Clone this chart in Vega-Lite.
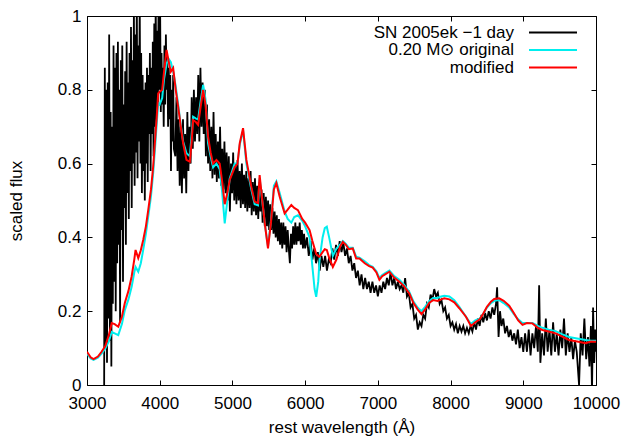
{
  "$schema": "https://vega.github.io/schema/vega-lite/v6.json",
  "width": 509,
  "height": 369,
  "autosize": {"type": "none"},
  "padding": {"left": 87, "top": 16, "right": 30, "bottom": 53},
  "background": "white",
  "config": {
    "font": "Liberation Sans",
    "view": {"stroke": "black", "strokeWidth": 1}
  },
  "datasets": {
    "obs": [
      {"w":3235,"f":-0.1},{"w":3245,"f":0.86},{"w":3255,"f":0.10},{"w":3265,"f":0.80},{"w":3275,"f":0.06},{"w":3285,"f":0.82},{"w":3295,"f":0.18},{"w":3305,"f":0.95},{"w":3315,"f":0.12},{"w":3325,"f":0.74},{"w":3335,"f":0.05},{"w":3345,"f":0.70},{"w":3355,"f":0.22},{"w":3365,"f":0.92},{"w":3375,"f":0.28},{"w":3385,"f":0.86},{"w":3395,"f":0.20},{"w":3405,"f":0.90},{"w":3415,"f":0.33},{"w":3425,"f":0.93},{"w":3435,"f":0.38},{"w":3445,"f":0.80},{"w":3455,"f":0.17},{"w":3465,"f":0.88},{"w":3475,"f":0.42},{"w":3485,"f":0.92},{"w":3495,"f":0.28},{"w":3505,"f":0.76},{"w":3515,"f":0.48},{"w":3525,"f":0.85},{"w":3535,"f":0.38},{"w":3545,"f":0.93},{"w":3555,"f":0.52},{"w":3565,"f":0.82},{"w":3575,"f":0.45},{"w":3585,"f":0.90},{"w":3595,"f":0.58},{"w":3605,"f":0.97},{"w":3615,"f":0.48},{"w":3625,"f":0.88},{"w":3635,"f":0.60},{"w":3645,"f":1.02},{"w":3655,"f":0.54},{"w":3665,"f":0.95},{"w":3675,"f":0.63},{"w":3685,"f":1.05},{"w":3695,"f":0.56},{"w":3705,"f":0.92},{"w":3715,"f":0.66},{"w":3725,"f":1.04},{"w":3735,"f":0.60},{"w":3745,"f":0.90},{"w":3755,"f":0.52},{"w":3765,"f":0.84},{"w":3775,"f":0.58},{"w":3785,"f":0.80},{"w":3795,"f":0.50},{"w":3805,"f":0.82},{"w":3815,"f":0.60},{"w":3825,"f":0.86},{"w":3835,"f":0.55},{"w":3845,"f":0.84},{"w":3855,"f":0.68},{"w":3865,"f":0.90},{"w":3875,"f":0.58},{"w":3885,"f":0.86},{"w":3895,"f":0.68},{"w":3905,"f":0.93},{"w":3915,"f":0.62},{"w":3925,"f":0.98},{"w":3935,"f":0.70},{"w":3945,"f":1.05},{"w":3955,"f":0.72},{"w":3965,"f":0.96},{"w":3975,"f":0.76},{"w":3985,"f":1.06},{"w":3995,"f":0.80},{"w":4005,"f":1.04},{"w":4015,"f":0.74},{"w":4025,"f":0.90},{"w":4035,"f":0.76},{"w":4045,"f":0.86},{"w":4055,"f":0.70},{"w":4065,"f":0.92},{"w":4075,"f":0.76},{"w":4085,"f":0.95},{"w":4095,"f":0.80},{"w":4105,"f":0.88},{"w":4115,"f":0.70},{"w":4125,"f":0.86},{"w":4135,"f":0.72},{"w":4145,"f":0.84},{"w":4155,"f":0.58},{"w":4165,"f":0.80},{"w":4175,"f":0.66},{"w":4185,"f":0.84},{"w":4195,"f":0.64},
      {"w":4215,"f":0.62},{"w":4230,"f":0.78},{"w":4245,"f":0.58},{"w":4260,"f":0.72},{"w":4275,"f":0.54},{"w":4290,"f":0.70},{"w":4305,"f":0.52},{"w":4320,"f":0.72},{"w":4335,"f":0.56},{"w":4350,"f":0.68},{"w":4365,"f":0.52},{"w":4380,"f":0.74},{"w":4395,"f":0.58},{"w":4410,"f":0.70},{"w":4425,"f":0.60},{"w":4440,"f":0.78},{"w":4455,"f":0.64},{"w":4470,"f":0.80},{"w":4485,"f":0.66},{"w":4500,"f":0.78},{"w":4515,"f":0.68},{"w":4530,"f":0.84},{"w":4545,"f":0.66},{"w":4560,"f":0.86},{"w":4575,"f":0.70},{"w":4590,"f":0.82},{"w":4605,"f":0.68},{"w":4620,"f":0.80},{"w":4635,"f":0.62},{"w":4650,"f":0.76},{"w":4665,"f":0.60},{"w":4680,"f":0.72},{"w":4695,"f":0.58},{"w":4710,"f":0.70},{"w":4725,"f":0.56},
      {"w":4740,"f":0.74},{"w":4755,"f":0.57},{"w":4770,"f":0.68},{"w":4785,"f":0.55},{"w":4800,"f":0.66},{"w":4815,"f":0.56},{"w":4830,"f":0.70},{"w":4845,"f":0.54},{"w":4860,"f":0.64},{"w":4875,"f":0.53},{"w":4890,"f":0.66},{"w":4905,"f":0.52},{"w":4920,"f":0.63},{"w":4935,"f":0.50},{"w":4950,"f":0.62},{"w":4965,"f":0.47},{"w":4980,"f":0.60},{"w":4995,"f":0.52},{"w":5010,"f":0.63},{"w":5025,"f":0.50},{"w":5040,"f":0.60},{"w":5055,"f":0.49},{"w":5070,"f":0.61},{"w":5085,"f":0.50},{"w":5100,"f":0.58},{"w":5115,"f":0.48},{"w":5130,"f":0.60},{"w":5145,"f":0.49},{"w":5160,"f":0.57},{"w":5175,"f":0.48},{"w":5190,"f":0.58},{"w":5205,"f":0.47},{"w":5220,"f":0.56},{"w":5235,"f":0.48},{"w":5250,"f":0.58},{"w":5265,"f":0.46},{"w":5280,"f":0.55},{"w":5295,"f":0.47},{"w":5310,"f":0.56},{"w":5325,"f":0.46},{"w":5340,"f":0.54},{"w":5355,"f":0.45},{"w":5370,"f":0.55},{"w":5385,"f":0.47},{"w":5400,"f":0.53},{"w":5415,"f":0.44},{"w":5430,"f":0.52},{"w":5445,"f":0.43},{"w":5460,"f":0.51},{"w":5475,"f":0.43},{"w":5490,"f":0.50},{"w":5505,"f":0.42},{"w":5520,"f":0.49},{"w":5535,"f":0.42},{"w":5550,"f":0.48},{"w":5565,"f":0.41},{"w":5580,"f":0.47},{"w":5595,"f":0.40},{"w":5610,"f":0.46},{"w":5625,"f":0.39},{"w":5640,"f":0.45},{"w":5655,"f":0.38},{"w":5670,"f":0.44},{"w":5685,"f":0.37},{"w":5700,"f":0.44},{"w":5715,"f":0.38},{"w":5730,"f":0.43},{"w":5745,"f":0.36},{"w":5760,"f":0.42},{"w":5775,"f":0.37},{"w":5790,"f":0.33},{"w":5805,"f":0.41},{"w":5820,"f":0.37},{"w":5835,"f":0.43},{"w":5850,"f":0.38},{"w":5865,"f":0.44},{"w":5880,"f":0.38},{"w":5895,"f":0.43},{"w":5910,"f":0.39},{"w":5925,"f":0.44},{"w":5940,"f":0.38},{"w":5955,"f":0.42},{"w":5970,"f":0.37},{"w":5985,"f":0.41},{"w":6000,"f":0.37},
      {"w":6025,"f":0.40},{"w":6050,"f":0.35},{"w":6075,"f":0.39},{"w":6100,"f":0.34},{"w":6125,"f":0.37},{"w":6150,"f":0.33},{"w":6175,"f":0.36},{"w":6200,"f":0.31},{"w":6225,"f":0.35},{"w":6250,"f":0.32},{"w":6275,"f":0.35},{"w":6300,"f":0.31},{"w":6325,"f":0.34},{"w":6350,"f":0.33},{"w":6375,"f":0.37},{"w":6400,"f":0.34},{"w":6425,"f":0.38},{"w":6450,"f":0.35},{"w":6475,"f":0.39},{"w":6500,"f":0.36},{"w":6525,"f":0.385},{"w":6550,"f":0.35},{"w":6575,"f":0.37},{"w":6600,"f":0.33},{"w":6625,"f":0.35},{"w":6650,"f":0.31},{"w":6675,"f":0.33},{"w":6700,"f":0.29},{"w":6725,"f":0.31},{"w":6750,"f":0.27},{"w":6775,"f":0.30},{"w":6800,"f":0.26},{"w":6825,"f":0.29},{"w":6850,"f":0.26},{"w":6875,"f":0.28},{"w":6900,"f":0.25},{"w":6925,"f":0.28},{"w":6950,"f":0.25},{"w":6975,"f":0.27},{"w":7000,"f":0.24},{"w":7025,"f":0.27},{"w":7050,"f":0.25},{"w":7075,"f":0.28},{"w":7100,"f":0.26},{"w":7125,"f":0.29},{"w":7150,"f":0.27},{"w":7175,"f":0.305},{"w":7200,"f":0.27},{"w":7225,"f":0.29},{"w":7250,"f":0.26},{"w":7275,"f":0.28},{"w":7300,"f":0.26},{"w":7325,"f":0.27},{"w":7350,"f":0.25},{"w":7375,"f":0.29},{"w":7400,"f":0.24},{"w":7425,"f":0.25},{"w":7450,"f":0.21},{"w":7475,"f":0.22},{"w":7500,"f":0.18},{"w":7525,"f":0.19},{"w":7550,"f":0.15},{"w":7575,"f":0.17},{"w":7600,"f":0.16},{"w":7625,"f":0.19},{"w":7650,"f":0.18},{"w":7675,"f":0.22},{"w":7700,"f":0.21},{"w":7725,"f":0.245},{"w":7750,"f":0.23},{"w":7775,"f":0.26},{"w":7800,"f":0.24},{"w":7825,"f":0.25},{"w":7850,"f":0.22},{"w":7875,"f":0.23},{"w":7900,"f":0.20},{"w":7925,"f":0.21},{"w":7950,"f":0.18},{"w":7975,"f":0.19},{"w":8000,"f":0.16},{"w":8025,"f":0.17},{"w":8050,"f":0.15},{"w":8075,"f":0.165},{"w":8100,"f":0.14},{"w":8125,"f":0.16},{"w":8150,"f":0.145},{"w":8175,"f":0.16},{"w":8200,"f":0.14},{"w":8225,"f":0.155},{"w":8250,"f":0.14},{"w":8275,"f":0.16},{"w":8300,"f":0.145},{"w":8325,"f":0.17},{"w":8350,"f":0.15},{"w":8375,"f":0.18},{"w":8400,"f":0.16},{"w":8425,"f":0.19},{"w":8450,"f":0.17},{"w":8475,"f":0.195},{"w":8500,"f":0.175},{"w":8525,"f":0.20},{"w":8550,"f":0.18},{"w":8575,"f":0.21},{"w":8600,"f":0.19},{"w":8625,"f":0.22},{"w":8640,"f":0.265},{"w":8660,"f":0.13},{"w":8680,"f":0.20},{"w":8700,"f":0.16},{"w":8725,"f":0.18},{"w":8750,"f":0.14},{"w":8775,"f":0.16},{"w":8800,"f":0.13},{"w":8825,"f":0.15},{"w":8850,"f":0.12},{"w":8875,"f":0.14},{"w":8900,"f":0.11},{"w":8925,"f":0.15},{"w":8950,"f":0.10},{"w":8975,"f":0.13},{"w":9000,"f":0.09},{"w":9025,"f":0.14},{"w":9050,"f":0.09},{"w":9075,"f":0.15},{"w":9100,"f":0.08},{"w":9125,"f":0.14},{"w":9150,"f":0.10},{"w":9175,"f":0.16},{"w":9200,"f":0.09},{"w":9218,"f":0.27},{"w":9235,"f":0.06},{"w":9260,"f":0.14},{"w":9285,"f":0.08},{"w":9310,"f":0.18},{"w":9335,"f":0.09},{"w":9360,"f":0.15},{"w":9385,"f":0.08},{"w":9410,"f":0.17},{"w":9435,"f":0.09},{"w":9460,"f":0.14},{"w":9485,"f":0.08},{"w":9510,"f":0.15},{"w":9535,"f":0.10},{"w":9560,"f":0.18},{"w":9585,"f":0.08},{"w":9610,"f":0.14},{"w":9635,"f":0.09},{"w":9660,"f":0.13},{"w":9685,"f":0.07},{"w":9710,"f":0.12},{"w":9735,"f":0.09},{"w":9767,"f":0.00},{"w":9790,"f":0.14},{"w":9815,"f":0.08},{"w":9840,"f":0.18},{"w":9865,"f":0.07},{"w":9890,"f":0.13},{"w":9910,"f":0.05},{"w":9930,"f":0.16},{"w":9945,"f":-0.02},{"w":9960,"f":0.21},{"w":9975,"f":0.06},{"w":9990,"f":0.15},{"w":10000,"f":0.09}
    ],
    "model": [
      {"w":3000,"mod":0.090,"orig":0.085},{"w":3050,"mod":0.075,"orig":0.072},{"w":3090,"mod":0.070,"orig":0.068},{"w":3150,"mod":0.077,"orig":0.074},{"w":3200,"mod":0.090,"orig":0.085},{"w":3250,"mod":0.105,"orig":0.098},{"w":3300,"mod":0.135,"orig":0.118},{"w":3340,"mod":0.168,"orig":0.144},{"w":3380,"mod":0.165,"orig":0.140},{"w":3430,"mod":0.158,"orig":0.135},{"w":3480,"mod":0.185,"orig":0.165},{"w":3520,"mod":0.222,"orig":0.203},{"w":3570,"mod":0.255,"orig":0.232},{"w":3614,"mod":0.294,"orig":0.266},{"w":3650,"mod":0.340,"orig":0.305},{"w":3668,"mod":0.366,"orig":0.320},{"w":3705,"mod":0.344,"orig":0.307},{"w":3740,"mod":0.365,"orig":0.330},{"w":3773,"mod":0.393,"orig":0.366},{"w":3810,"mod":0.430,"orig":0.410},{"w":3842,"mod":0.474,"orig":0.456},{"w":3880,"mod":0.530,"orig":0.512},{"w":3910,"mod":0.592,"orig":0.574},{"w":3935,"mod":0.660,"orig":0.640},{"w":3956,"mod":0.718,"orig":0.700},{"w":3979,"mod":0.790,"orig":0.764},{"w":4000,"mod":0.795,"orig":0.760},{"w":4034,"mod":0.800,"orig":0.778},{"w":4060,"mod":0.850,"orig":0.830},{"w":4094,"mod":0.908,"orig":0.870},{"w":4120,"mod":0.880,"orig":0.885},{"w":4153,"mod":0.849,"orig":0.875},{"w":4185,"mod":0.859,"orig":0.850},{"w":4220,"mod":0.800,"orig":0.810},{"w":4254,"mod":0.754,"orig":0.760},{"w":4290,"mod":0.700,"orig":0.705},{"w":4322,"mod":0.655,"orig":0.660},{"w":4368,"mod":0.610,"orig":0.628},{"w":4414,"mod":0.605,"orig":0.620},{"w":4440,"mod":0.660,"orig":0.680},{"w":4459,"mod":0.718,"orig":0.727},{"w":4500,"mod":0.712,"orig":0.722},{"w":4528,"mod":0.705,"orig":0.720},{"w":4560,"mod":0.750,"orig":0.765},{"w":4597,"mod":0.800,"orig":0.813},{"w":4630,"mod":0.760,"orig":0.775},{"w":4665,"mod":0.673,"orig":0.655},{"w":4700,"mod":0.630,"orig":0.620},{"w":4734,"mod":0.600,"orig":0.590},{"w":4780,"mod":0.610,"orig":0.600},{"w":4825,"mod":0.600,"orig":0.585},{"w":4860,"mod":0.550,"orig":0.520},{"w":4894,"mod":0.490,"orig":0.438},{"w":4930,"mod":0.520,"orig":0.500},{"w":4963,"mod":0.556,"orig":0.560},{"w":5031,"mod":0.590,"orig":0.600},{"w":5070,"mod":0.600,"orig":0.600},{"w":5100,"mod":0.655,"orig":0.650},{"w":5146,"mod":0.696,"orig":0.690},{"w":5192,"mod":0.610,"orig":0.600},{"w":5260,"mod":0.537,"orig":0.530},{"w":5306,"mod":0.497,"orig":0.490},{"w":5352,"mod":0.493,"orig":0.487},{"w":5374,"mod":0.569,"orig":0.560},{"w":5400,"mod":0.520,"orig":0.515},{"w":5450,"mod":0.430,"orig":0.430},{"w":5489,"mod":0.370,"orig":0.375},{"w":5530,"mod":0.440,"orig":0.445},{"w":5570,"mod":0.530,"orig":0.540},{"w":5604,"mod":0.547,"orig":0.552},{"w":5650,"mod":0.510,"orig":0.520},{"w":5718,"mod":0.465,"orig":0.470},{"w":5760,"mod":0.475,"orig":0.450},{"w":5810,"mod":0.488,"orig":0.440},{"w":5850,"mod":0.480,"orig":0.455},{"w":5901,"mod":0.474,"orig":0.460},{"w":5960,"mod":0.450,"orig":0.445},{"w":6000,"mod":0.440,"orig":0.430},{"w":6061,"mod":0.420,"orig":0.400},{"w":6100,"mod":0.390,"orig":0.320},{"w":6130,"mod":0.370,"orig":0.260},{"w":6152,"mod":0.355,"orig":0.239},{"w":6180,"mod":0.350,"orig":0.280},{"w":6198,"mod":0.348,"orig":0.340},{"w":6240,"mod":0.360,"orig":0.400},{"w":6270,"mod":0.368,"orig":0.425},{"w":6298,"mod":0.366,"orig":0.429},{"w":6330,"mod":0.345,"orig":0.400},{"w":6381,"mod":0.320,"orig":0.350},{"w":6430,"mod":0.340,"orig":0.370},{"w":6480,"mod":0.375,"orig":0.380},{"w":6518,"mod":0.388,"orig":0.390},{"w":6560,"mod":0.380,"orig":0.382},{"w":6600,"mod":0.368,"orig":0.372},{"w":6655,"mod":0.370,"orig":0.372},{"w":6701,"mod":0.343,"orig":0.348},{"w":6747,"mod":0.343,"orig":0.345},{"w":6820,"mod":0.330,"orig":0.335},{"w":6880,"mod":0.322,"orig":0.325},{"w":6929,"mod":0.318,"orig":0.320},{"w":6980,"mod":0.305,"orig":0.308},{"w":7021,"mod":0.285,"orig":0.290},{"w":7060,"mod":0.295,"orig":0.298},{"w":7100,"mod":0.300,"orig":0.303},{"w":7159,"mod":0.307,"orig":0.310},{"w":7220,"mod":0.292,"orig":0.296},{"w":7296,"mod":0.280,"orig":0.285},{"w":7360,"mod":0.268,"orig":0.272},{"w":7433,"mod":0.248,"orig":0.252},{"w":7490,"mod":0.222,"orig":0.226},{"w":7547,"mod":0.205,"orig":0.210},{"w":7600,"mod":0.192,"orig":0.200},{"w":7650,"mod":0.205,"orig":0.212},{"w":7708,"mod":0.223,"orig":0.228},{"w":7760,"mod":0.230,"orig":0.236},{"w":7822,"mod":0.228,"orig":0.236},{"w":7870,"mod":0.232,"orig":0.240},{"w":7914,"mod":0.235,"orig":0.242},{"w":7983,"mod":0.232,"orig":0.240},{"w":8051,"mod":0.224,"orig":0.230},{"w":8120,"mod":0.208,"orig":0.212},{"w":8212,"mod":0.185,"orig":0.185},{"w":8280,"mod":0.160,"orig":0.165},{"w":8340,"mod":0.170,"orig":0.175},{"w":8400,"mod":0.178,"orig":0.180},{"w":8440,"mod":0.190,"orig":0.190},{"w":8500,"mod":0.212,"orig":0.210},{"w":8555,"mod":0.226,"orig":0.222},{"w":8600,"mod":0.233,"orig":0.228},{"w":8669,"mod":0.235,"orig":0.230},{"w":8730,"mod":0.228,"orig":0.222},{"w":8806,"mod":0.215,"orig":0.210},{"w":8870,"mod":0.195,"orig":0.192},{"w":8930,"mod":0.175,"orig":0.178},{"w":8989,"mod":0.163,"orig":0.168},{"w":9050,"mod":0.168,"orig":0.168},{"w":9126,"mod":0.167,"orig":0.168},{"w":9200,"mod":0.155,"orig":0.160},{"w":9263,"mod":0.149,"orig":0.155},{"w":9350,"mod":0.145,"orig":0.150},{"w":9446,"mod":0.140,"orig":0.146},{"w":9530,"mod":0.132,"orig":0.138},{"w":9629,"mod":0.122,"orig":0.130},{"w":9740,"mod":0.118,"orig":0.126},{"w":9858,"mod":0.113,"orig":0.122},{"w":9930,"mod":0.118,"orig":0.120},{"w":10000,"mod":0.117,"orig":0.120}
    ]
  },
  "layer": [
    {
      "data": {"name": "obs"},
      "mark": {"type": "line", "clip": true, "strokeWidth": 1.8},
      "encoding": {
        "x": {"field": "w", "type": "quantitative",
          "scale": {"domain": [3000, 10000], "nice": false, "zero": false},
          "axis": {"orient": "bottom", "values": [3000,4000,5000,6000,7000,8000,9000,10000], "format": "d", "labelFlush": false, "labelOverlap": false, "grid": false, "domain": false, "tickColor": "black", "tickSize": -5, "labelColor": "black", "labelFontSize": 17, "labelPadding": 15, "title": "rest wavelength (Å)", "titleFontSize": 17, "titleFontWeight": "normal", "titleColor": "black", "titlePadding": 8}},
        "y": {"field": "f", "type": "quantitative",
          "scale": {"domain": [0, 1], "nice": false, "zero": false},
          "axis": {"orient": "left", "values": [0,0.2,0.4,0.6,0.8,1], "format": "~g", "labelFlush": false, "labelOverlap": false, "grid": false, "domain": false, "tickColor": "black", "tickSize": -5, "labelColor": "black", "labelFontSize": 17, "labelPadding": 11, "title": "scaled flux", "titleFontSize": 17, "titleFontWeight": "normal", "titleColor": "black", "titlePadding": 32}},
        "color": {"datum": "SN 2005ek −1 day", "type": "nominal",
          "scale": {"domain": ["SN 2005ek −1 day", "0.20 M⊙ original", "modified"], "range": ["#000000", "#00eeee", "#ff0000"]},
          "legend": {"orient": "none", "legendX": 457, "legendY": 7.5, "title": null, "symbolType": "M-3,0H3", "symbolSize": 256, "symbolStrokeWidth": 2, "labelAlign": "right", "labelOffset": -48, "labelFontSize": 17, "labelLimit": 0, "rowPadding": 0.5, "padding": 0, "labelColor": "black"}}
      }
    },
    {
      "data": {"name": "model"},
      "mark": {"type": "line", "clip": true, "strokeWidth": 2},
      "encoding": {
        "x": {"field": "w", "type": "quantitative",
          "axis": {"orient": "top", "values": [3000,4000,5000,6000,7000,8000,9000,10000], "labels": false, "title": null, "grid": false, "domain": false, "tickColor": "black", "tickSize": -5}},
        "y": {"field": "orig", "type": "quantitative",
          "axis": {"orient": "right", "values": [0,0.2,0.4,0.6,0.8,1], "labels": false, "title": null, "grid": false, "domain": false, "tickColor": "black", "tickSize": -5}},
        "color": {"datum": "0.20 M⊙ original", "type": "nominal"}
      }
    },
    {
      "data": {"name": "model"},
      "mark": {"type": "line", "clip": true, "strokeWidth": 2},
      "encoding": {
        "x": {"field": "w", "type": "quantitative", "axis": null},
        "y": {"field": "mod", "type": "quantitative", "axis": null},
        "color": {"datum": "modified", "type": "nominal"}
      }
    }
  ],
  "resolve": {"axis": {"x": "independent", "y": "independent"}}
}
